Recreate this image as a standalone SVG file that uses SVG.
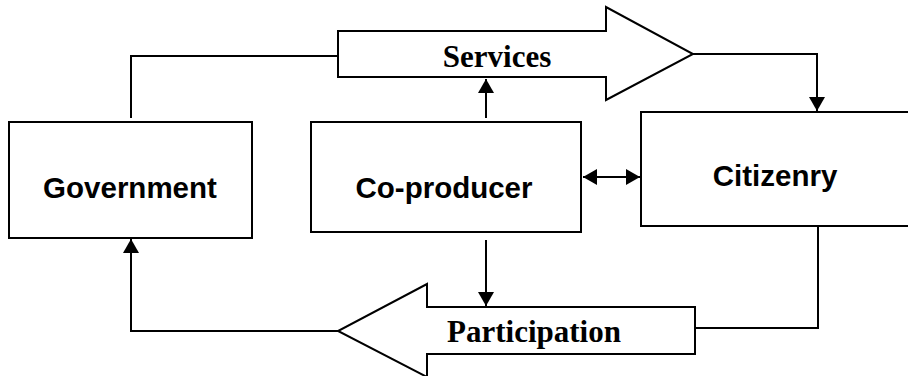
<svg xmlns="http://www.w3.org/2000/svg" width="908" height="376" viewBox="0 0 908 376">
<style>
.box{fill:#fff;stroke:#000;stroke-width:2}
.line{fill:none;stroke:#000;stroke-width:2}
.sans{font-family:"Liberation Sans",Arial,sans-serif;font-weight:bold;font-size:29.5px;fill:#000}
.serif{font-family:"Liberation Serif","Times New Roman",serif;font-weight:bold;font-size:31px;fill:#000}
</style>
<defs>
<marker id="ah" viewBox="0 0 14 16" refX="14" refY="8" markerWidth="14" markerHeight="16" markerUnits="userSpaceOnUse" orient="auto-start-reverse">
<path d="M0,0 L14,8 L0,16 z" fill="#000"/>
</marker>
</defs>
<rect width="908" height="376" fill="#fff"/>
<g id="connectors">
<polyline class="line" points="338,56 131,56 131,118"/>
<polyline class="line" points="693,54 817,54 817,111" marker-end="url(#ah)"/>
<line class="line" x1="486" y1="118" x2="486" y2="79" marker-end="url(#ah)"/>
<line class="line" x1="583" y1="177" x2="640" y2="177" marker-start="url(#ah)" marker-end="url(#ah)"/>
<line class="line" x1="486" y1="240" x2="486" y2="306" marker-end="url(#ah)"/>
<polyline class="line" points="696,328 818,328 818,226"/>
<polyline class="line" points="338,331 131,331 131,239" marker-end="url(#ah)"/>
</g>
<g id="services">
<path class="box" d="M338,31 H606 V7 L693,54 L606,100 V77 H338 Z"/>
<text class="serif" x="497" y="67" text-anchor="middle">Services</text>
</g>
<g id="participation">
<path class="box" d="M695,307 H427 V284 L338,331 L427,377 V354 H695 Z"/>
<text class="serif" x="534" y="342" text-anchor="middle">Participation</text>
</g>
<g id="government">
<rect class="box" x="9" y="122" width="243" height="116"/>
<text class="sans" x="130" y="198" text-anchor="middle">Government</text>
</g>
<g id="coproducer">
<rect class="box" x="311" y="122" width="270" height="110"/>
<text class="sans" x="444" y="198" text-anchor="middle">Co-producer</text>
</g>
<g id="citizenry">
<rect class="box" x="641" y="112" width="280" height="114"/>
<text class="sans" x="775" y="186" text-anchor="middle">Citizenry</text>
</g>
</svg>
